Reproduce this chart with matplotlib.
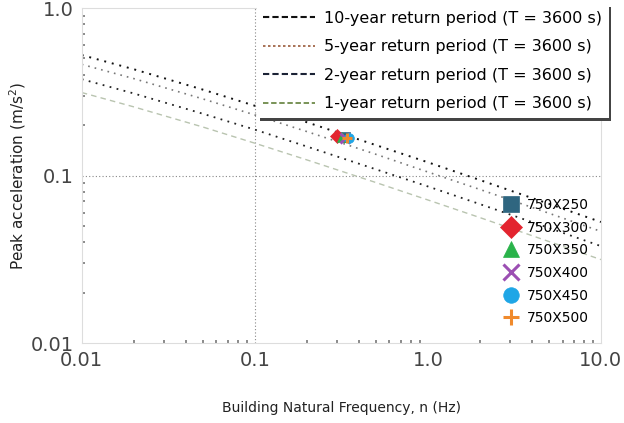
import matplotlib
matplotlib.use("Agg")
import matplotlib.pyplot as plt
from matplotlib.lines import Line2D

# building natural frequency n (Hz) sampled along the criterion curves
freq = [0.01, 0.02, 0.05, 0.1, 0.2, 0.5, 1.0, 2.0, 5.0, 10.0]
# peak acceleration criteria
acc_10yr = [0.524, 0.431, 0.326, 0.261, 0.208, 0.152, 0.120, 0.094, 0.0678, 0.0528]
acc_5yr = [0.461, 0.379, 0.287, 0.230, 0.183, 0.134, 0.105, 0.0826, 0.0596, 0.0464]
acc_2yr = [0.376, 0.309, 0.234, 0.188, 0.149, 0.109, 0.0861, 0.0675, 0.0487, 0.0379]
acc_1yr = [0.313, 0.257, 0.195, 0.156, 0.124, 0.0909, 0.0715, 0.0561, 0.0404, 0.0315]
curve_labels = [
    "10-year return period (T = 3600 s)",
    "5-year return period (T = 3600 s)",
    "2-year return period (T = 3600 s)",
    "1-year return period (T = 3600 s)",
]

# building models
models = ["750X250", "750X300", "750X350", "750X400", "750X450", "750X500"]
model_freq = [0.330, 0.300, 0.320, 0.330, 0.350, 0.340]
model_acc = [0.170, 0.172, 0.170, 0.168, 0.168, 0.167]

x_ticks = [0.01, 0.1, 1.0, 10.0]
x_ticklabels = ["0.01", "0.1", "1.0", "10.0"]
y_ticks = [0.01, 0.1, 1.0]
y_ticklabels = ["0.01", "0.1", "1.0"]

curve_styles = [
    dict(color="#111111", ls=(0, (1, 3)), lw=1.4),
    dict(color="#777777", ls=(0, (1, 3)), lw=1.2),
    dict(color="#222222", ls=(0, (1, 3)), lw=1.3),
    dict(color="#b9c4b0", ls=(0, (4, 3)), lw=1.0),
]
handle_styles = [
    dict(color="#111111", ls=(0, (3, 1.5)), lw=1.5),
    dict(color="#9a5a3a", ls=(0, (1.5, 1.5)), lw=1.2),
    dict(color="#1b2235", ls=(0, (3, 1.5)), lw=1.5),
    dict(color="#6e8a4a", ls=(0, (3, 1.5)), lw=1.3),
]
markers = ["s", "D", "^", "x", "o", "+"]
colors = ["#2f6680", "#e3242f", "#2ab34b", "#9c4fb3", "#1fa6e6", "#f08a2c"]

fig = plt.figure(figsize=(6.24, 4.23), dpi=100)
ax = fig.add_axes([0.131, 0.189, 0.832, 0.792])
ax.set_xscale("log")
ax.set_yscale("log")
ax.set_xlim(0.01, 10.0)
ax.set_ylim(0.01, 1.0)

for acc, st in zip([acc_10yr, acc_5yr, acc_2yr, acc_1yr], curve_styles):
    ax.plot(freq, acc, **st)

ax.axvline(0.1, color="#888888", ls=(0, (1, 2)), lw=0.8, zorder=0)
ax.axhline(0.1, color="#888888", ls=(0, (1, 2)), lw=0.8, zorder=0)

model_handles = []
for nm, f, a, mk, c in zip(models, model_freq, model_acc, markers, colors):
    mew = 2.2 if mk in ("x", "+") else 0.5
    h, = ax.plot([f], [a], ls="none", marker=mk, color=c, ms=7, mew=mew,
                 mec=c, label=nm)
    model_handles.append(h)

ax.set_xticks(x_ticks, x_ticklabels)
ax.set_yticks(y_ticks, y_ticklabels)
ax.tick_params(which="major", length=0, labelsize=14, labelcolor="#444444", pad=6)
ax.tick_params(which="minor", direction="in", length=2, width=1.2, color="#777777")
ax.yaxis.set_minor_formatter(matplotlib.ticker.NullFormatter())
ax.xaxis.set_minor_formatter(matplotlib.ticker.NullFormatter())
for sp in ax.spines.values():
    sp.set_color("#dddddd")

ax.set_xlabel("Building Natural Frequency, n (Hz)", fontsize=10, color="#222222",
              labelpad=22)
ax.set_ylabel("Peak acceleration (m/s$^2$)", fontsize=11, color="#222222", labelpad=2)

proxies = [Line2D([], [], **st) for st in handle_styles]
leg1 = ax.legend(proxies, curve_labels, loc="upper right",
                 bbox_to_anchor=(1.03, 1.035), fontsize=11.5, handlelength=3.2,
                 labelspacing=0.85, borderpad=0.4, handletextpad=0.6,
                 fancybox=False, framealpha=1.0, edgecolor="#ffffff",
                 shadow={"color": "#444444", "alpha": 1.0})
leg1.get_frame().set_linewidth(0)
ax.add_artist(leg1)

ax.legend(handles=model_handles, loc="lower right", bbox_to_anchor=(1.0, 0.016),
          fontsize=10, markerscale=1.6, frameon=False, handlelength=1.2,
          labelspacing=0.62, handletextpad=0.5)

fig.savefig("out.png", dpi=100)
